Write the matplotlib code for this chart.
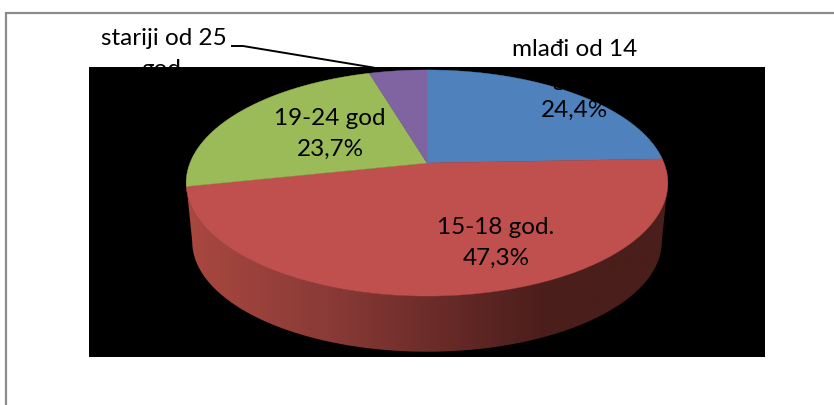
import numpy as np
import matplotlib
matplotlib.use('Agg')
import matplotlib.pyplot as plt
from matplotlib.colors import LinearSegmentedColormap
from matplotlib.patches import Polygon

plt.rcParams['font.family'] = ['Lato', 'DejaVu Sans']

W, H = 834, 405

shares = [24.4, 47.3, 23.7, 4.6]
colors = ['#4F81BD', '#C0504D', '#9BBB59', '#8064A2']
outer_labels = ['mlađi od 14\ngod.\n24,4%', '15-18 god.\n47,3%', '19-24 god\n23,7%', 'stariji od 25\ngod.']
label_pos = [(575, 80), (496, 243), (330, 134), (164, 54)]

CX, CY = 427, 163 # where the slices meet, in pixels.
RX, RY = 237, 109.5
PERSP = 0.177 # the back of the pie is squeezed by this much.
DEPTH = 59


def project(theta, scale = 1.0, dy = 0):
    # theta runs clockwise from 12 o'clock, on the flat unit disc.
    u, v = np.sin(theta), np.cos(theta)
    d = 1 + PERSP * v
    return CX + scale * RX * u / d, CY + dy - scale * RY * v / d


fig = plt.figure(figsize = (W / 100, H / 100), dpi = 100)
ax = fig.add_axes([0, 0, 1, 1])
ax.set_xlim(0, W)
ax.set_ylim(H, 0)
ax.axis('off')

# page frame
ax.plot([W, 6, 6], [13, 13, H], color = '#8C8C8C', lw = 1.6, zorder = 1, solid_joinstyle = 'miter')

ax.add_patch(Polygon([(89, 67), (765, 67), (765, 357), (89, 357)], fc = 'black', ec = 'none', zorder = 2))

# side wall, from the widest point on one side to the widest on the other
t_wide = np.arccos(-PERSP)
t = np.linspace(t_wide, 2 * np.pi - t_wide, 300)
bx, by = project(t, 0.975, DEPTH)
tx, ty = project(t)
wall = Polygon(np.column_stack([np.r_[bx, tx[::-1]], np.r_[by, ty[::-1]]]), fc = 'none', ec = 'none', zorder = 3)
ax.add_patch(wall)
wall_cmap = LinearSegmentedColormap.from_list('wall', [(0, '#A9483F'), (0.3, '#8A3A37'), (0.62, '#5C2522'), (0.75, '#4A1E1B'), (1, '#4A1E1B')])
im = ax.imshow(np.linspace(0, 1, 256)[None, :], extent = (186, 668, 357, 150), aspect = 'auto', cmap = wall_cmap, zorder = 3)
im.set_clip_path(wall)
ax.set_xlim(0, W)
ax.set_ylim(H, 0)

# top face
start = 0.0
for share, color in zip(shares, colors):
    end = start + share / sum(shares) * 2 * np.pi
    a = np.linspace(start, end, 200)
    x, y = project(a)
    ax.add_patch(Polygon(np.column_stack([np.r_[CX, x], np.r_[CY, y]]), fc = color, ec = color, lw = 0.3, zorder = 4))
    start = end

# leader line of the small slice, it runs on into the black
ax.plot([232, 243, 373], [46, 46, 67.5], color = 'black', lw = 1.4, zorder = 5)

for text, (x, y) in zip(outer_labels, label_pos):
    ax.text(x, y, text, ha = 'center', va = 'center', fontsize = 17.5, linespacing = 1.55, color = 'black', zorder = 6)

fig.savefig('out.png', dpi = 100)
